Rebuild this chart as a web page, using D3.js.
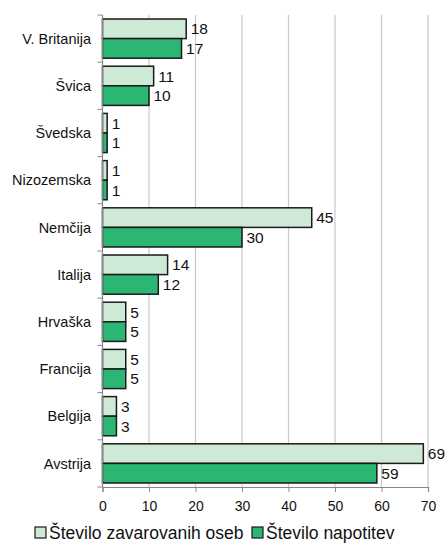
<!DOCTYPE html>
<html><head><meta charset="utf-8">
<script src="https://cdn.jsdelivr.net/npm/d3@7"></script>
<style>body{margin:0;background:#fff;}svg{display:block;font-family:"Liberation Sans",Arial,sans-serif;}</style>
</head><body>
<svg id="c" width="446" height="545"></svg>
<script>
const categories = ["V. Britanija","Švica","Švedska","Nizozemska","Nemčija","Italija","Hrvaška","Francija","Belgija","Avstrija"];
const insured = [18,11,1,1,45,14,5,5,3,69];
const referrals = [17,10,1,1,30,12,5,5,3,59];
const seriesNames = ["Število zavarovanih oseb","Število napotitev"];
const xTicks = [0,10,20,30,40,50,60,70];
const colors = ["#cfe9d7","#2bb673"];

(function(){
const svg = d3.select("#c");
const mL = 102.5, mR = 428, mT = 15, mB = 487;
const x = d3.scaleLinear().domain([0,70]).range([mL,mR]);
const y = d3.scaleBand().domain(categories).range([mT,mB]).paddingInner(0.17).paddingOuter(0.085);
const inner = d3.scaleBand().domain([0,1]).range([0,y.bandwidth()]);

// grid
svg.append("g").selectAll("line").data(xTicks.slice(1)).join("line")
  .attr("x1",d=>x(d)).attr("x2",d=>x(d)).attr("y1",mT).attr("y2",mB)
  .attr("stroke","#c8c8c8").attr("stroke-width",1.2);

// bars
const data = categories.map((c,i)=>({c, v:[insured[i],referrals[i]]}));
const g = svg.append("g");
data.forEach(d=>{
  d.v.forEach((v,j)=>{
    const yy = y(d.c)+inner(j);
    g.append("rect").attr("x",x(0)).attr("y",yy).attr("width",x(v)-x(0)).attr("height",inner.bandwidth())
      .attr("fill",colors[j]).attr("stroke","#1a1a1a").attr("stroke-width",1.5);
    g.append("text").attr("x",x(v)+4.5).attr("y",yy+inner.bandwidth()/2).attr("dy","0.36em")
      .attr("font-size",15.5).attr("fill","#111").text(v);
  });
});

// y axis
const yAxisG = svg.append("g");
yAxisG.append("line").attr("x1",mL).attr("x2",mL).attr("y1",mT).attr("y2",mB).attr("stroke","#888").attr("stroke-width",1.2);
const bstep = (mB-mT)/categories.length;
yAxisG.selectAll("line.t").data(d3.range(categories.length+1)).join("line").attr("class","t")
  .attr("x1",mL-5).attr("x2",mL).attr("y1",i=>mT+i*bstep).attr("y2",i=>mT+i*bstep).attr("stroke","#888");
yAxisG.selectAll("text").data(categories).join("text")
  .attr("x",91).attr("y",d=>y(d)+y.bandwidth()/2).attr("dy","0.36em").attr("text-anchor","end")
  .attr("font-size",14.5).attr("fill","#111").text(d=>d);

// x axis
const xAxis = d3.axisBottom(x).tickValues(xTicks).tickSize(5).tickPadding(9);
const xg = svg.append("g").attr("transform",`translate(0,${mB})`).call(xAxis);
xg.select(".domain").attr("stroke","#888").attr("stroke-width",1.2);
xg.selectAll(".tick line").attr("stroke","#888");
xg.selectAll("text").attr("font-size",14).attr("fill","#111").attr("font-family","Liberation Sans, Arial, sans-serif");

// legend
const lg = svg.append("g");
const legX = [35, 252];
seriesNames.forEach((n,j)=>{
  lg.append("rect").attr("x",legX[j]).attr("y",527).attr("width",11).attr("height",11)
    .attr("fill",colors[j]).attr("stroke","#1a1a1a").attr("stroke-width",1.2);
  lg.append("text").attr("x",legX[j]+14).attr("y",533).attr("dy","0.36em")
    .attr("font-size",17.5).attr("fill","#111").text(n);
});
})();
</script>
</body></html>
